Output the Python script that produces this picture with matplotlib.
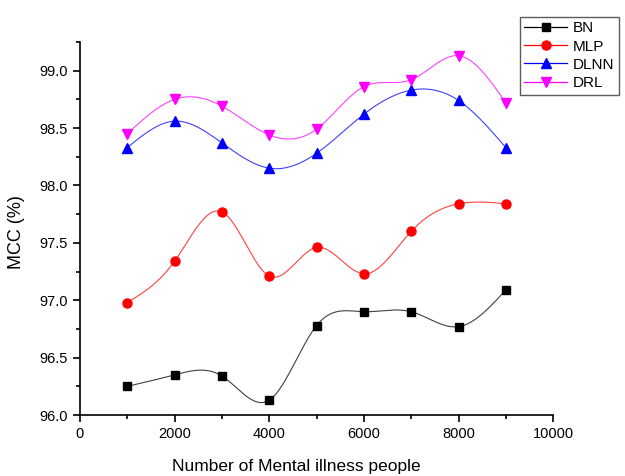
import matplotlib
matplotlib.use("Agg")
import matplotlib.pyplot as plt
from matplotlib.ticker import MultipleLocator
import numpy as np

plt.rcParams['font.family'] = ['Liberation Sans', 'DejaVu Sans']

# data
people = [1000, 2000, 3000, 4000, 5000, 6000, 7000, 8000, 9000]
bn = [96.25, 96.35, 96.34, 96.13, 96.78, 96.90, 96.90, 96.77, 97.09]
mlp = [96.98, 97.34, 97.77, 97.21, 97.46, 97.23, 97.60, 97.84, 97.84]
dlnn = [98.33, 98.56, 98.37, 98.15, 98.28, 98.62, 98.83, 98.74, 98.33]
drl = [98.45, 98.75, 98.69, 98.44, 98.49, 98.86, 98.92, 99.13, 98.72]


def spline(x, y, n=400):
    # natural cubic spline through the points, like Origin's spline connector
    x = np.asarray(x, float)
    y = np.asarray(y, float)
    k = len(x)
    h = np.diff(x)
    A = np.zeros((k, k))
    b = np.zeros(k)
    A[0, 0] = A[-1, -1] = 1
    for i in range(1, k - 1):
        A[i, i - 1] = h[i - 1]
        A[i, i] = 2 * (h[i - 1] + h[i])
        A[i, i + 1] = h[i]
        b[i] = 6 * ((y[i + 1] - y[i]) / h[i] - (y[i] - y[i - 1]) / h[i - 1])
    m = np.linalg.solve(A, b)
    xs = np.linspace(x[0], x[-1], n)
    idx = np.clip(np.searchsorted(x, xs) - 1, 0, k - 2)
    t = xs - x[idx]
    hi = h[idx]
    a = (m[idx + 1] - m[idx]) / (6 * hi)
    c = (y[idx + 1] - y[idx]) / hi - hi * (2 * m[idx] + m[idx + 1]) / 6
    ys = y[idx] + c * t + m[idx] / 2 * t ** 2 + a * t ** 3
    return xs, ys


fig = plt.figure(figsize=(6.25, 4.76), dpi=100, facecolor='white')
ax = fig.add_axes([0.128, 0.128, 0.757, 0.784])

series = [
    ('BN', bn, 'black', 's', 6.3),
    ('MLP', mlp, 'red', 'o', 6.5),
    ('DLNN', dlnn, 'blue', '^', 7),
    ('DRL', drl, 'magenta', 'v', 7),
]
for name, vals, col, mk, ms in series:
    xs, ys = spline(people, vals)
    ax.plot(xs, ys, color=col, lw=0.8, alpha=0.75)
    ax.plot(people, vals, linestyle='none', marker=mk, color=col, ms=ms)
    ax.plot([], [], color=col, lw=0.9, marker=mk, ms=ms, label=name)

ax.set_xlim(0, 10000)
ax.set_ylim(96.0, 99.25)
ax.xaxis.set_major_locator(MultipleLocator(2000))
ax.xaxis.set_minor_locator(MultipleLocator(1000))
ax.yaxis.set_major_locator(MultipleLocator(0.5))
ax.yaxis.set_minor_locator(MultipleLocator(0.25))
ax.yaxis.set_major_formatter(plt.FormatStrFormatter('%.1f'))

ax.spines['top'].set_visible(False)
ax.spines['right'].set_visible(False)
for s in ['left', 'bottom']:
    ax.spines[s].set_linewidth(1.2)
ax.tick_params(which='major', direction='out', length=5, width=1.2, labelsize=10.5)
ax.tick_params(which='minor', direction='out', length=3, width=1.2)

ax.set_xlabel('Number of Mental illness people', fontsize=12.5)
ax.set_ylabel('MCC (%)', fontsize=13)
ax.xaxis.set_label_coords(0.457, -0.117)
ax.yaxis.set_label_coords(-0.116, 0.49)

leg = fig.legend(loc='upper right', bbox_to_anchor=(1.003, 0.981), fontsize=11,
                 frameon=True, fancybox=False, edgecolor='#333333',
                 handlelength=2.8, borderpad=0.3, labelspacing=0.28,
                 handletextpad=0.4)
leg.get_frame().set_linewidth(1.0)

fig.savefig('out.png', dpi=100)
